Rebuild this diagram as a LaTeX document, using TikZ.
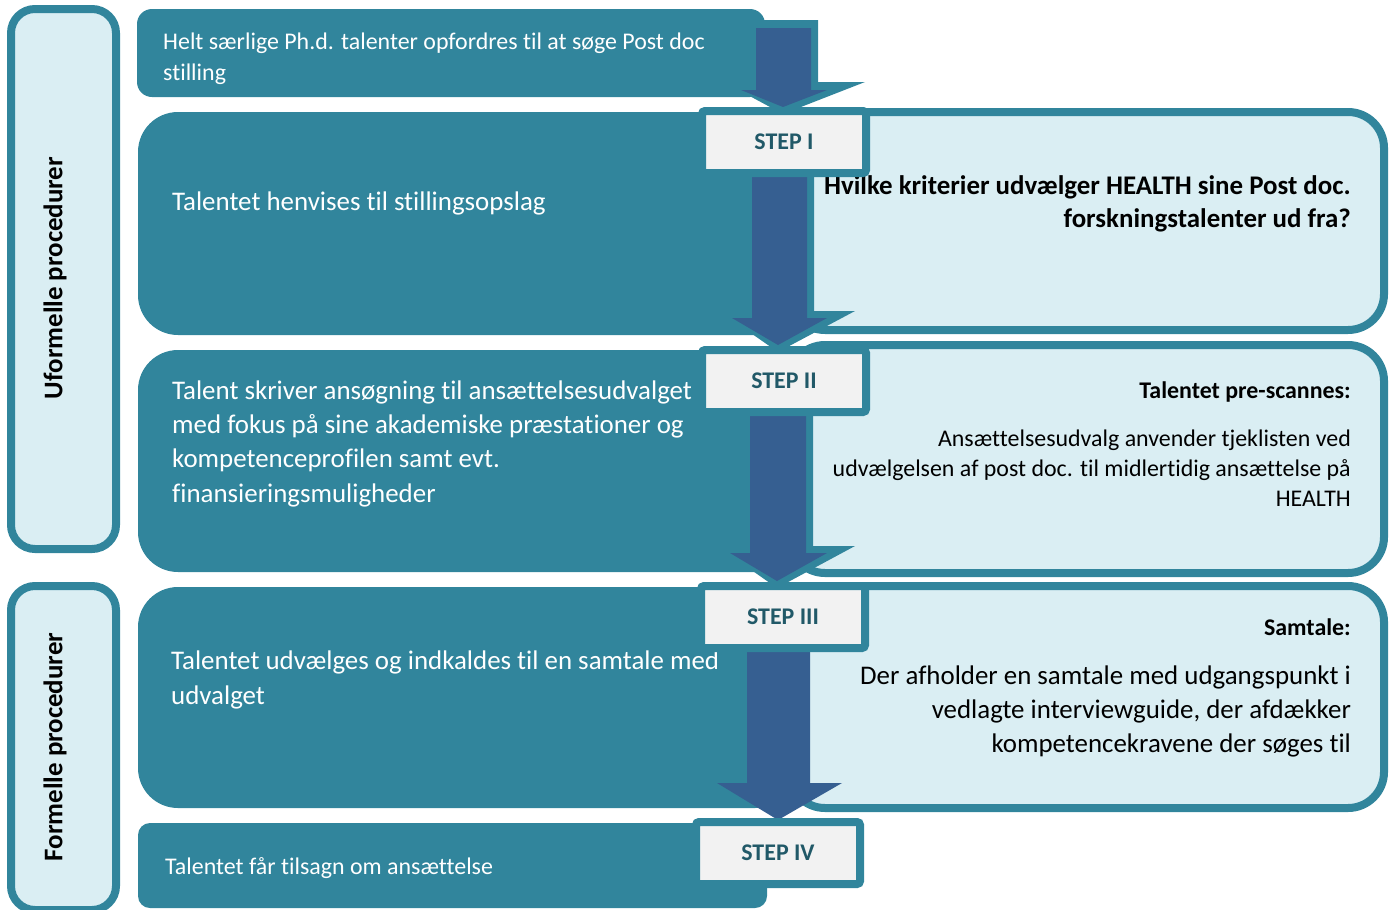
\documentclass[tikz,border=0pt]{standalone}
\usepackage{fontspec}
\setmainfont[Ligatures={NoCommon}]{Carlito}
\definecolor{myteal}{HTML}{31859C}
\definecolor{arrowblue}{HTML}{365F91}
\definecolor{lightbl}{HTML}{DAEEF3}
\definecolor{stepgray}{HTML}{F2F2F2}
\definecolor{steptext}{HTML}{215968}
\tikzset{
  labelbox/.style={draw=myteal, fill=lightbl, line width=8bp, rounded corners=24bp},
  darkbox/.style={fill=myteal},
  lightbox/.style={draw=myteal, fill=lightbl, line width=8bp, rounded corners=36bp},
  stepbox/.style={draw=myteal, fill=stepgray, line width=8bp, rounded corners=3bp, inner sep=0pt,
    minimum width=164bp, minimum height=62bp, text=steptext, font=\fontsize{24}{28}\selectfont\bfseries},
  whitetext/.style={text=white, inner sep=0pt, align=left},
  blacktext/.style={text=black, inner sep=0pt, align=right},
  arrowout/.style={fill=myteal},
  arrowin/.style={fill=arrowblue},
}
\begin{document}
\begin{tikzpicture}[x=1bp,y=-1bp]
\useasboundingbox (0,0) rectangle (1390,909);
\clip (0,0) rectangle (1390,909);
% left label boxes
\draw[labelbox] (11,9) rectangle (116,549);
\draw[labelbox] (11,586) rectangle (116,910);
\node[rotate=90, font=\fontsize{27}{32}\selectfont\bfseries, inner sep=0pt] (uf) at (55,278) {Uformelle procedurer};
\node[rotate=90, font=\fontsize{27}{32}\selectfont\bfseries, inner sep=0pt] (fo) at (55,747) {Formelle procedurer};
% dark boxes
\fill[darkbox, rounded corners=15bp] (137,9) rectangle (765,97);
\fill[darkbox, rounded corners=40bp] (138,112) rectangle (795,335);
\fill[darkbox, rounded corners=40bp] (138,350) rectangle (795,572);
\fill[darkbox, rounded corners=40bp] (138,587) rectangle (795,808);
\fill[darkbox, rounded corners=12bp] (138,823) rectangle (767,908);
% light boxes
\draw[lightbox] (789,112) rectangle (1384,330);
\draw[lightbox] (789,345) rectangle (1384,573);
\draw[lightbox] (789,586) rectangle (1384,808);
% texts in dark boxes
\begin{scope}
\clip (137,9) rectangle (765,84);
\node[whitetext, anchor=base west, font=\fontsize{24}{31}\selectfont] (ta) at (163,80) {Helt særlige Ph.d. talenter opfordres til at søge Post doc\\stilling};
\end{scope}
\node[whitetext, anchor=base west, font=\fontsize{27}{34}\selectfont] (tb) at (172,210) {Talentet henvises til stillingsopslag};
\node[whitetext, anchor=base west, font=\fontsize{27}{34.3}\selectfont] (tc) at (172,502) {Talent skriver ansøgning til ansættelsesudvalget\\med fokus på sine akademiske præstationer og\\kompetenceprofilen samt evt.\\finansieringsmuligheder};
\node[whitetext, anchor=base west, font=\fontsize{27}{35}\selectfont] (td) at (171,704) {Talentet udvælges og indkaldes til en samtale med\\udvalget};
\node[whitetext, anchor=base west, font=\fontsize{24}{30}\selectfont] (te) at (165,874) {Talentet får tilsagn om ansættelse};
% texts in light boxes
\node[blacktext, anchor=base east, font=\fontsize{27}{33}\selectfont\bfseries] (t1) at (1351,227) {Hvilke kriterier udvælger HEALTH sine Post doc.\\forskningstalenter ud fra?};
\node[blacktext, anchor=base east, font=\fontsize{24}{30}\selectfont\bfseries] (t2a) at (1351,398) {Talentet pre-scannes:};
\node[blacktext, anchor=base east, font=\fontsize{24}{30}\selectfont] (t2b) at (1351,506) {Ansættelsesudvalg anvender tjeklisten ved\\udvælgelsen af post doc. til midlertidig ansættelse på\\HEALTH};
\node[blacktext, anchor=base east, font=\fontsize{24}{30}\selectfont\bfseries] (t3a) at (1351,635) {Samtale:};
\node[blacktext, anchor=base east, font=\fontsize{27}{34}\selectfont] (t3b) at (1351,752) {Der afholder en samtale med udgangspunkt i\\vedlagte interviewguide, der afdækker\\kompetencekravene der søges til};
% arrows
\fill[arrowout] (749,20) -- (818,20) -- (818,82) -- (865,82) -- (783,114) -- (731,86) -- (749,86) -- cycle;
\fill[arrowin] (756,28) -- (811,28) -- (811,90) -- (827,90) -- (783,107) -- (741,90) -- (756,90) -- cycle;
\fill[arrowout] (745,170) -- (814,170) -- (814,311) -- (855,311) -- (778,352) -- (722,313) -- (745,313) -- cycle;
\fill[arrowin] (752,170) -- (807,170) -- (807,318) -- (827,318) -- (778,345) -- (732,318) -- (752,318) -- cycle;
\fill[arrowout] (743,410) -- (813,410) -- (813,546) -- (855,546) -- (777,588) -- (720,548) -- (743,548) -- cycle;
\fill[arrowin] (750,410) -- (806,410) -- (806,553) -- (827,553) -- (777,581) -- (730,553) -- (750,553) -- cycle;
\fill[arrowin] (747,645) -- (810,645) -- (810,783) -- (842,783) -- (778,820) -- (717,783) -- (747,783) -- cycle;
% step boxes
\node[stepbox] (s1) at (784,142) {STEP I};
\node[stepbox] (s2) at (784,381) {STEP II};
\node[stepbox] (s3) at (783,617) {STEP III};
\node[stepbox] (s4) at (778,853) {STEP IV};
\end{tikzpicture}
\end{document}
